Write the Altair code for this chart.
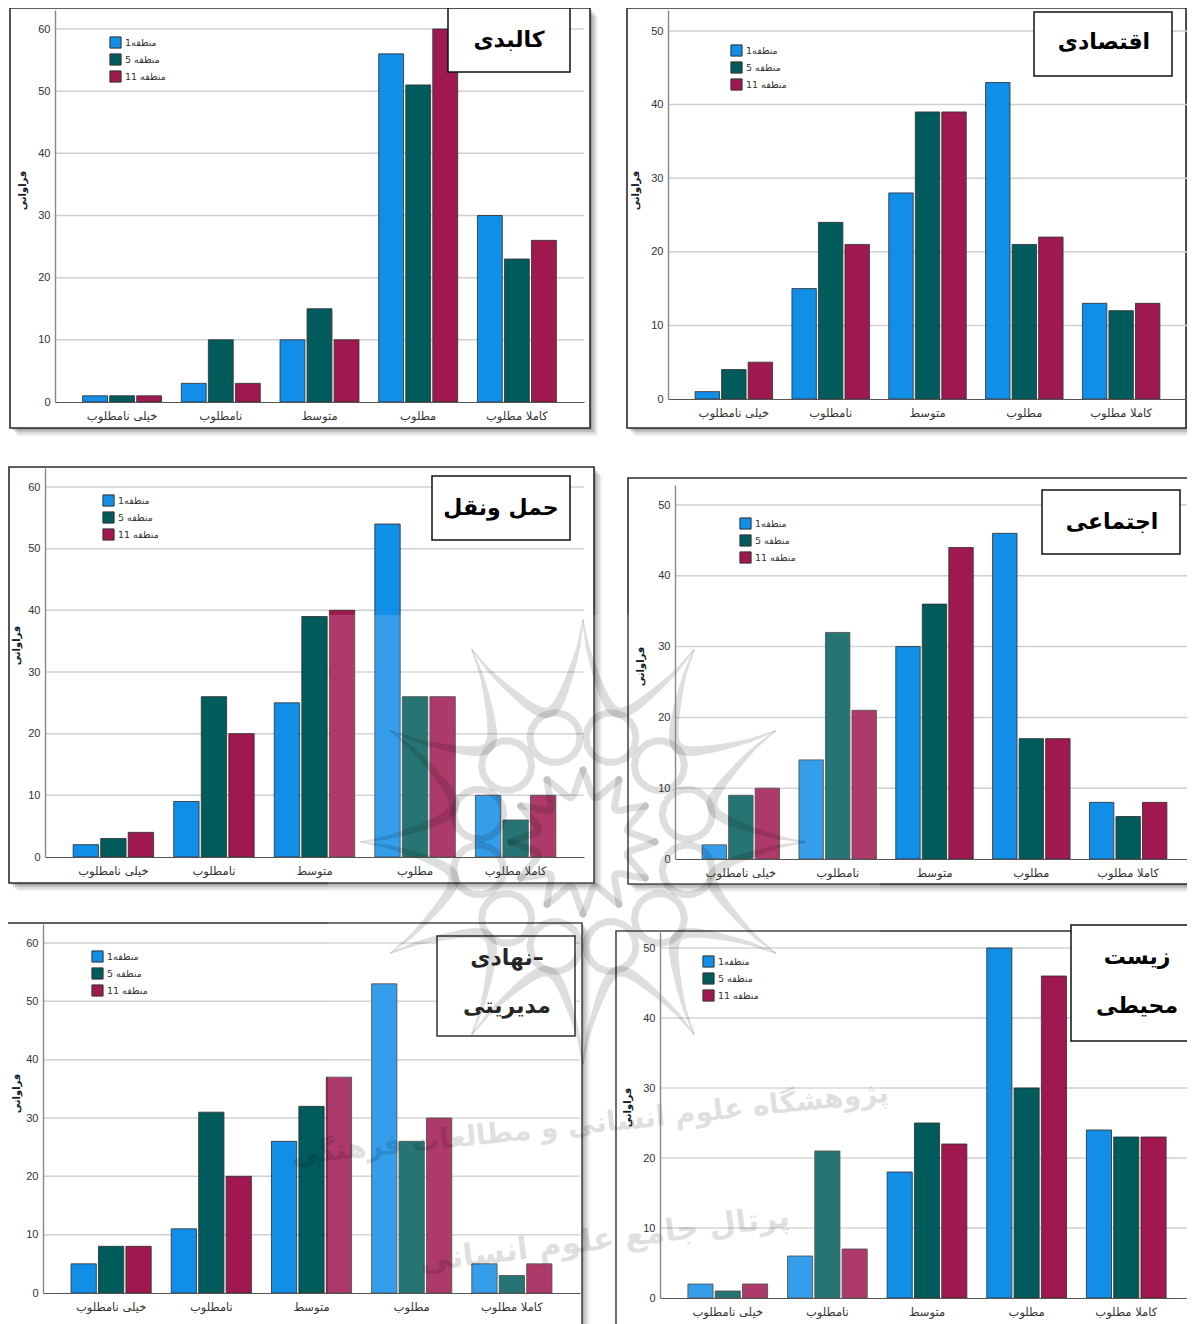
import math
import altair as alt
import pandas as pd

W, H = 1179, 1316
M = 8
categories = ["خیلی نامطلوب", "نامطلوب", "متوسط", "مطلوب", "کاملا مطلوب"]
zones = ["1منطقه", "5 منطقه", "11 منطقه"]
colors = ["#118ee8", "#005c5c", "#9f1850"]

kalbadi = [[1, 3, 10, 56, 30], [1, 10, 15, 51, 23], [1, 3, 10, 60, 26]]
eghtesadi = [[1, 15, 28, 43, 13], [4, 24, 39, 21, 12], [5, 21, 39, 22, 13]]
haml = [[2, 9, 25, 54, 10], [3, 26, 39, 26, 6], [4, 20, 40, 26, 10]]
ejtemaei = [[2, 14, 30, 46, 8], [9, 32, 36, 17, 6], [10, 21, 44, 17, 8]]
nahadi = [[5, 11, 26, 53, 5], [8, 31, 32, 26, 3], [8, 20, 37, 30, 5]]
zist = [[2, 6, 18, 50, 24], [1, 21, 25, 30, 23], [2, 7, 22, 46, 23]]

panels = [
    dict(v=kalbadi, frame=(10, 8, 590, 428), ax=(55, 584), y0=402, ytop=29, tmax=60, atop=10,
         box=(448, 8, 570, 72), lines=[("کالبدی", 509, 40)], leg=(109, 36), at=(27, 190)),
    dict(v=eghtesadi, frame=(627, 8, 1186, 428), ax=(668, 1187), y0=399, ytop=31, tmax=50, atop=10,
         box=(1034, 12, 1172, 76), lines=[("اقتصادی", 1104, 42)], leg=(730, 44), at=(640, 190)),
    dict(v=haml, frame=(9, 467, 594, 883), ax=(45, 584), y0=857, ytop=487, tmax=60, atop=468,
         box=(432, 476, 570, 540), lines=[("حمل ونقل", 501, 508)], leg=(102, 494), at=(21, 645)),
    dict(v=ejtemaei, frame=(628, 478, 1200, 884), ax=(675, 1194), y0=859, ytop=505, tmax=50, atop=485,
         box=(1042, 490, 1180, 554), lines=[("اجتماعی", 1112, 522)], leg=(739, 517), at=(645, 666)),
    dict(v=nahadi, frame=(0, 923, 582, 1330), ax=(43, 580), y0=1293, ytop=943, tmax=60, atop=924,
         box=(437, 936, 575, 1036), lines=[("نهادی–", 507, 958), ("مدیریتی", 507, 1006)], leg=(91, 950), at=(21, 1093)),
    dict(v=zist, frame=(616, 931, 1200, 1330), ax=(660, 1194), y0=1298, ytop=948, tmax=50, atop=932,
         box=(1071, 925, 1205, 1041), lines=[("زیست", 1137, 957), ("محیطی", 1137, 1006)], leg=(702, 955), at=(632, 1107)),
]

one = pd.DataFrame({"a": [0]})


def rect(x0, y0, x1, y1, **kw):
    return alt.Chart(one).mark_rect(**kw).encode(
        x=alt.value(x0 - M), x2=alt.value(x1 - M), y=alt.value(y0 - M), y2=alt.value(y1 - M))


def panel(p):
    x0, y0, x1, y1 = p["frame"]
    a, b = p["ax"]
    per = (p["y0"] - p["ytop"]) / p["tmax"]
    dmax = (p["y0"] - p["atop"]) / per
    yscale = alt.Scale(domain=[0, dmax], range=[p["y0"] - M, p["atop"] - M], nice=False)
    xscale = alt.Scale(domain=categories, range=[a - M, b - M], paddingInner=0.2, paddingOuter=0.28)
    rows = []
    for zi, z in enumerate(zones):
        for ci, c in enumerate(categories):
            rows.append({"cat": c, "zone": z, "val": p["v"][zi][ci]})
    df = pd.DataFrame(rows)
    ticks = pd.DataFrame({"t": list(range(0, p["tmax"] + 1, 10))})
    layers = []
    for off, op in ((8, 0.06), (6, 0.09), (4, 0.12), (2, 0.16)):
        layers.append(rect(x0 + off, y0 + off, x1 + off, y1 + off, color="#000000", opacity=op))
    layers.append(rect(x0, y0, x1, y1, color="#ffffff", stroke="#2b2b2b", strokeWidth=1.6))
    layers.append(alt.Chart(ticks).transform_filter("datum.t > 0").mark_rule(color="#cfcfcf", strokeWidth=1.5).encode(
        y=alt.Y("t:Q", scale=yscale, axis=None), x=alt.value(a - M), x2=alt.value(b - M)))
    layers.append(alt.Chart(df).mark_bar(stroke="#333333", strokeWidth=1, strokeOpacity=0.85).encode(
        x=alt.X("cat:N", scale=xscale, sort=categories, axis=alt.Axis(
            title=None, orient="bottom", offset=(p["y0"] - M) - H, ticks=False, labelAngle=0,
            labelFont="DejaVu Sans", labelFontSize=11.5, labelColor="#333333", labelPadding=8,
            domainColor="#555555", domainWidth=1.2, grid=False, zindex=1)),
        xOffset=alt.XOffset("zone:N", sort=zones, scale=alt.Scale(domain=zones, paddingInner=0.08, paddingOuter=0)),
        y=alt.Y("val:Q", scale=yscale, axis=alt.Axis(
            title="فراوانی", orient="left", offset=-(a - M), values=list(ticks["t"]), ticks=False, grid=False,
            labelFont="Liberation Sans", labelFontSize=11, labelColor="#333333", labelPadding=5,
            domainColor="#888888", domainWidth=1.4, zindex=1,
            titleFont="DejaVu Sans", titleFontSize=10, titleFontWeight="bold", titleColor="#101828",
            titleX=p["at"][0] - a, titleY=p["at"][1] - M)),
        color=alt.Color("zone:N", sort=zones, scale=alt.Scale(domain=zones, range=colors), legend=alt.Legend(
            title=None, orient="none", legendX=p["leg"][0] - M, legendY=p["leg"][1] - M, symbolType="square",
            symbolSize=125, symbolStrokeColor="#333333", symbolStrokeWidth=1, symbolOpacity=1,
            labelFont="DejaVu Sans", labelFontSize=9.5, labelColor="#333333", labelOffset=3, rowPadding=0,
            padding=0)),
    ))
    bx0, by0, bx1, by1 = p["box"]
    layers.append(rect(bx0, by0, bx1, by1, color="#ffffff", stroke="#111111", strokeWidth=1.5))
    for txt, tx, ty in p["lines"]:
        layers.append(alt.Chart(one).mark_text(font="DejaVu Sans", fontWeight="bold", fontSize=22, color="#000000").encode(
            x=alt.value(tx - M), y=alt.value(ty - M), text=alt.value(txt)))
    return layers


# decorative watermark (faint rosette and two lines of text drawn over the whole sheet)
CX, CY = 583 - M, 842 - M
pts = []
seq = 0
stroke_id = 0


def add(path):
    global seq, stroke_id
    for (x, y, s) in path:
        pts.append({"x": x, "y": y, "s": s, "o": seq, "d": stroke_id})
        seq += 1
    stroke_id += 1


N = 12
for i in range(N):
    t1 = math.radians(i * 30 - 90)
    t2 = math.radians((i + 1) * 30 - 90)
    path = []
    for k in range(25):
        u = k / 24
        t = t1 + (t2 - t1) * u
        r = 222 - 88 * math.sin(math.pi * u) ** 0.6
        path.append((CX + r * math.cos(t), CY + r * math.sin(t), 1.5 + 9 * math.sin(math.pi * u) ** 0.7))
    add(path)
    tm = math.radians(i * 30 - 90)
    ccx, ccy = CX + 108 * math.cos(tm + math.radians(15)), CY + 108 * math.sin(tm + math.radians(15))
    add([(ccx + 25 * math.cos(math.radians(a)), ccy + 25 * math.sin(math.radians(a)), 7) for a in range(0, 361, 20)])
    path = []
    for k in range(13):
        u = k / 12
        t = t1 + (t2 - t1) * u
        r = 72 - 26 * math.sin(math.pi * u)
        path.append((CX + r * math.cos(t), CY + r * math.sin(t), 7))
    add(path)

logo = alt.Chart(pd.DataFrame(pts)).mark_trail(color="#000000", opacity=0.13).encode(
    x=alt.X("x:Q", scale=None, axis=None), y=alt.Y("y:Q", scale=None, axis=None),
    size=alt.Size("s:Q", scale=None, legend=None), order=alt.Order("o:Q"), detail="d:N")


def wm_text(txt, x, y, angle, size):
    return alt.Chart(one).mark_text(font="DejaVu Sans", fontWeight="bold", fontSize=size, color="#000000", opacity=0.12, angle=angle).encode(
        x=alt.value(x - M), y=alt.value(y - M), text=alt.value(txt))


layers = []
for p in panels:
    layers.extend(panel(p))
layers.append(rect(328, 615, 880, 1330, color="#ffffff", opacity=0.15))
layers.append(logo)
layers.append(wm_text("پژوهشگاه علوم انسانی و مطالعات فرهنگی", 590, 1125, 354, 28))
layers.append(wm_text("پرتال جامع علوم انسانی", 605, 1240, 353, 31))

chart = alt.layer(*layers).resolve_scale(
    x="independent", y="independent", color="independent", xOffset="independent", size="independent"
).resolve_axis(x="independent", y="independent").resolve_legend(color="independent").properties(
    width=W, height=H, padding=0, autosize=alt.AutoSizeParams(type="none")
).configure_view(stroke=None)

chart.save("out.html", embed_options={"renderer": "svg", "actions": False})
